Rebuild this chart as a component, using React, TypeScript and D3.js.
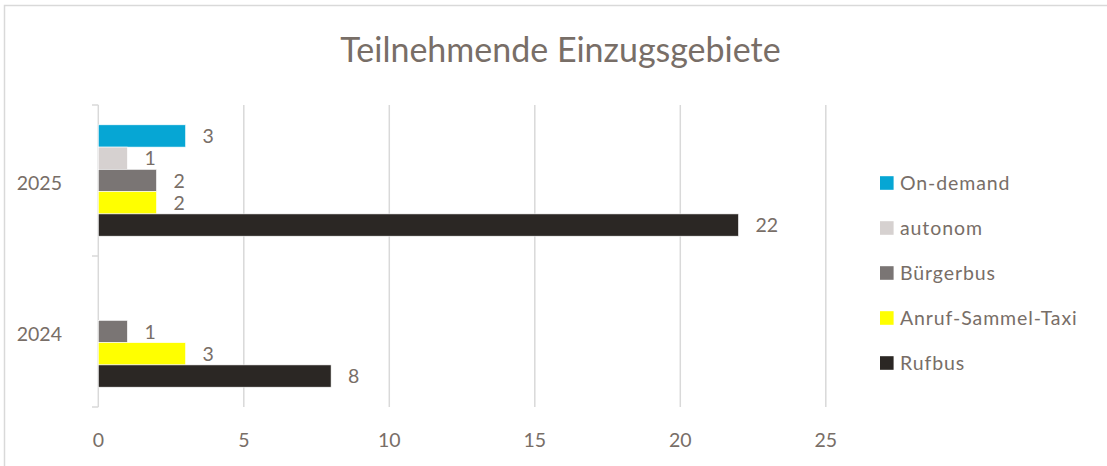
import React from "react";
import * as d3 from "d3";

const categories = ["2025", "2024"];
const seriesNames = ["On-demand", "autonom", "Bürgerbus", "Anruf-Sammel-Taxi", "Rufbus"];
const seriesColors = ["#06A6D4", "#D6D1D0", "#7A7574", "#FFFF00", "#2B2724"];
const values2025 = [3, 1, 2, 2, 22];
const values2024: (number | null)[] = [null, null, 1, 3, 8];
const xTicks = [0, 5, 10, 15, 20, 25];

const W = 1107;
const H = 466;
const TEXT = "#786E67";
const GRID = "#D9D9D9";
const FONT = "Lato, 'Open Sans', sans-serif";

export default function App() {
  const x = d3.scaleLinear().domain([0, 25]).range([98.3, 825.8]);
  const y = d3.scaleBand<string>().domain(categories).range([105, 407]).paddingInner(0).paddingOuter(0);
  const inner = d3
    .scaleBand<string>()
    .domain(seriesNames)
    .range([0, y.bandwidth()])
    .paddingInner(0)
    .paddingOuter(0.89);
  const dataByCat: Record<string, (number | null)[]> = { "2025": values2025, "2024": values2024 };
  const boundaries = [105, ...categories.map((c) => (y(c) as number) + y.bandwidth())];

  return (
    <svg width={W} height={H} style={{ position: "absolute", left: 0, top: 0, background: "#fff" }}>
      <rect x={4.5} y={5.5} width={W + 10} height={H + 10} fill="#fff" stroke={GRID} strokeWidth={1.5} />
      <text x={560.5} y={62} textAnchor="middle" fontFamily={FONT} fontSize={34} fill={TEXT}>
        Teilnehmende Einzugsgebiete
      </text>
      {/* gridlines */}
      {xTicks.map((t) => (
        <line key={"g" + t} x1={x(t)} x2={x(t)} y1={105} y2={407} stroke={GRID} strokeWidth={1.5} />
      ))}
      {/* category ticks */}
      {boundaries.map((b, i) => (
        <line key={"t" + i} x1={92} x2={x(0)} y1={b} y2={b} stroke={GRID} strokeWidth={1.5} />
      ))}
      {/* bars */}
      {categories.map((c) =>
        seriesNames.map((s, i) => {
          const v = dataByCat[c][i];
          if (v == null) return null;
          const by = (y(c) as number) + (inner(s) as number);
          const bh = inner.bandwidth();
          return (
            <g key={c + s}>
              <rect x={x(0)} y={by} width={x(v) - x(0)} height={bh} fill={seriesColors[i]} stroke="#fff" strokeWidth={0.6} />
              <text
                x={x(v) + 17}
                y={by + bh / 2}
                dy="0.36em"
                fontFamily={FONT}
                fontSize={19.5}
                fill={TEXT}
              >
                {v}
              </text>
            </g>
          );
        })
      )}
      {/* category labels */}
      {categories.map((c) => (
        <text
          key={"c" + c}
          x={62}
          y={(y(c) as number) + y.bandwidth() / 2 + 2}
          dy="0.36em"
          textAnchor="end"
          fontFamily={FONT}
          fontSize={19.5}
          fill={TEXT}
        >
          {c}
        </text>
      ))}
      {/* x tick labels */}
      {xTicks.map((t) => (
        <text key={"x" + t} x={x(t)} y={440} dy="0.36em" textAnchor="middle" fontFamily={FONT} fontSize={19.5} fill={TEXT}>
          {t}
        </text>
      ))}
      {/* legend */}
      {seriesNames.map((s, i) => {
        const cy = 183 + i * 45;
        return (
          <g key={"l" + s}>
            <rect x={880} y={cy - 6.8} width={13.6} height={13.6} fill={seriesColors[i]} />
            <text x={900} y={cy} dy="0.36em" fontFamily={FONT} fontSize={19.5} letterSpacing={0.9} fill={TEXT}>
              {s}
            </text>
          </g>
        );
      })}
    </svg>
  );
}
